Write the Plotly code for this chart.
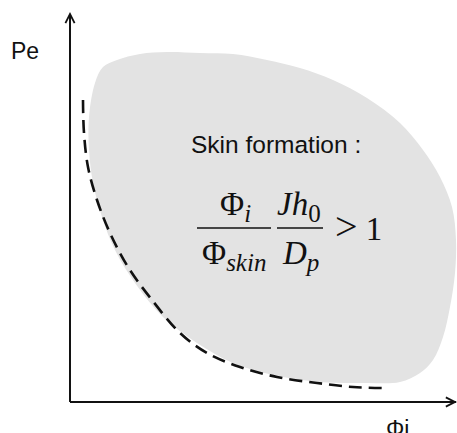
import plotly.graph_objects as go

# Schematic region outline (Φi, Pe in arbitrary units, origin at axes corner)
blob_x = [33, 47, 70, 97, 130, 163, 197, 230, 263, 297, 330, 353, 370, 382, 386, 385, 380, 373, 363, 350,
          330, 297, 250, 203, 163, 127, 93, 65, 45, 32, 23, 19, 19, 25, 33]
blob_y = [335, 342, 348, 350, 349, 348, 342, 334, 322, 304, 279, 252, 225, 195, 162, 129, 95, 65, 42, 29,
          20, 19, 20, 27, 39, 59, 85, 119, 152, 185, 219, 252, 285, 319, 335]

# Dashed boundary curve
curve_x = [13, 14, 18, 27, 40, 58, 82, 110, 137, 170, 207, 247, 283, 315]
curve_y = [302, 269, 235, 202, 169, 135, 102, 69, 49, 35, 25, 19, 15, 14]

x_label = "Φi"
y_label = "Pe"
region_label = "Skin formation :"

X0, X1 = -70, 387
Y0, Y1 = -31, 402

fig = go.Figure()
fig.add_trace(go.Scatter(x=blob_x, y=blob_y, mode="lines", fill="toself",
                         fillcolor="#e3e3e3", line=dict(color="#e3e3e3", width=0, shape="spline", smoothing=1.0),
                         hoverinfo="skip"))
fig.add_trace(go.Scatter(x=curve_x, y=curve_y, mode="lines",
                         line=dict(color="#111111", width=2.6, dash="13px,7px", shape="spline"),
                         hoverinfo="skip"))

sans = "Liberation Sans, Arial, sans-serif"
serif = "Liberation Serif, Times New Roman, serif"
ann = []
# axes arrows
ann.append(dict(x=0, y=390, ax=0, ay=-1, xref="x", yref="y", axref="x", ayref="y", text="",
                showarrow=True, arrowhead=5, arrowwidth=1.8, arrowsize=1.0, arrowcolor="#111111"))
ann.append(dict(x=387, y=0, ax=-1, ay=0, xref="x", yref="y", axref="x", ayref="y", text="",
                showarrow=True, arrowhead=5, arrowwidth=1.8, arrowsize=1.0, arrowcolor="#111111"))
ann.append(dict(x=-45, y=351, xref="x", yref="y", text=y_label, showarrow=False,
                font=dict(family=sans, size=23, color="#111111")))
ann.append(dict(x=327, y=-31, xref="x", yref="y", text=x_label, showarrow=False,
                yanchor="bottom", yshift=-11, font=dict(family=sans, size=23, color="#111111")))
ann.append(dict(x=206, y=258, xref="x", yref="y", text=region_label, showarrow=False,
                font=dict(family=sans, size=24.5, color="#111111")))
# formula
mf = dict(family=serif, size=33, color="#111111")
sub = "<sub><span style='font-size:25px'>%s</span></sub>"
ann.append(dict(x=165, y=196, xref="x", yref="y", text="Φ" + sub % "<i>i</i>", showarrow=False, font=mf))
ann.append(dict(x=164, y=147, xref="x", yref="y", text="Φ" + sub % "<i>skin</i>", showarrow=False, font=mf))
ann.append(dict(x=229, y=196, xref="x", yref="y", text="<i>Jh</i>" + sub % "0", showarrow=False, font=mf))
ann.append(dict(x=230, y=147, xref="x", yref="y", text="<i>D</i>" + sub % "<i>p</i>", showarrow=False, font=mf))
ann.append(dict(x=288, y=176, xref="x", yref="y",
                text="<span style='font-size:40px'>&gt;</span> 1", showarrow=False, font=mf))

shapes = [
    dict(type="line", x0=0, y0=0, x1=0, y1=388, xref="x", yref="y", line=dict(color="#111111", width=1.8)),
    dict(type="line", x0=0, y0=0, x1=386, y1=0, xref="x", yref="y", line=dict(color="#111111", width=1.8)),
    dict(type="line", x0=127, y0=174, x1=201, y1=174, xref="x", yref="y", line=dict(color="#111111", width=1.5)),
    dict(type="line", x0=207, y0=174, x1=253, y1=174, xref="x", yref="y", line=dict(color="#111111", width=1.5)),
]

fig.update_layout(width=457, height=433, autosize=False,
                  margin=dict(l=0, r=0, t=0, b=0, pad=0),
                  paper_bgcolor="white", plot_bgcolor="white", showlegend=False,
                  xaxis=dict(range=[X0, X1], visible=False, fixedrange=True),
                  yaxis=dict(range=[Y0, Y1], visible=False, fixedrange=True),
                  annotations=ann, shapes=shapes)
fig.write_html("out.html", config={"displayModeBar": False},
               post_script="document.body.style.margin='0';document.body.style.overflow='hidden';")
